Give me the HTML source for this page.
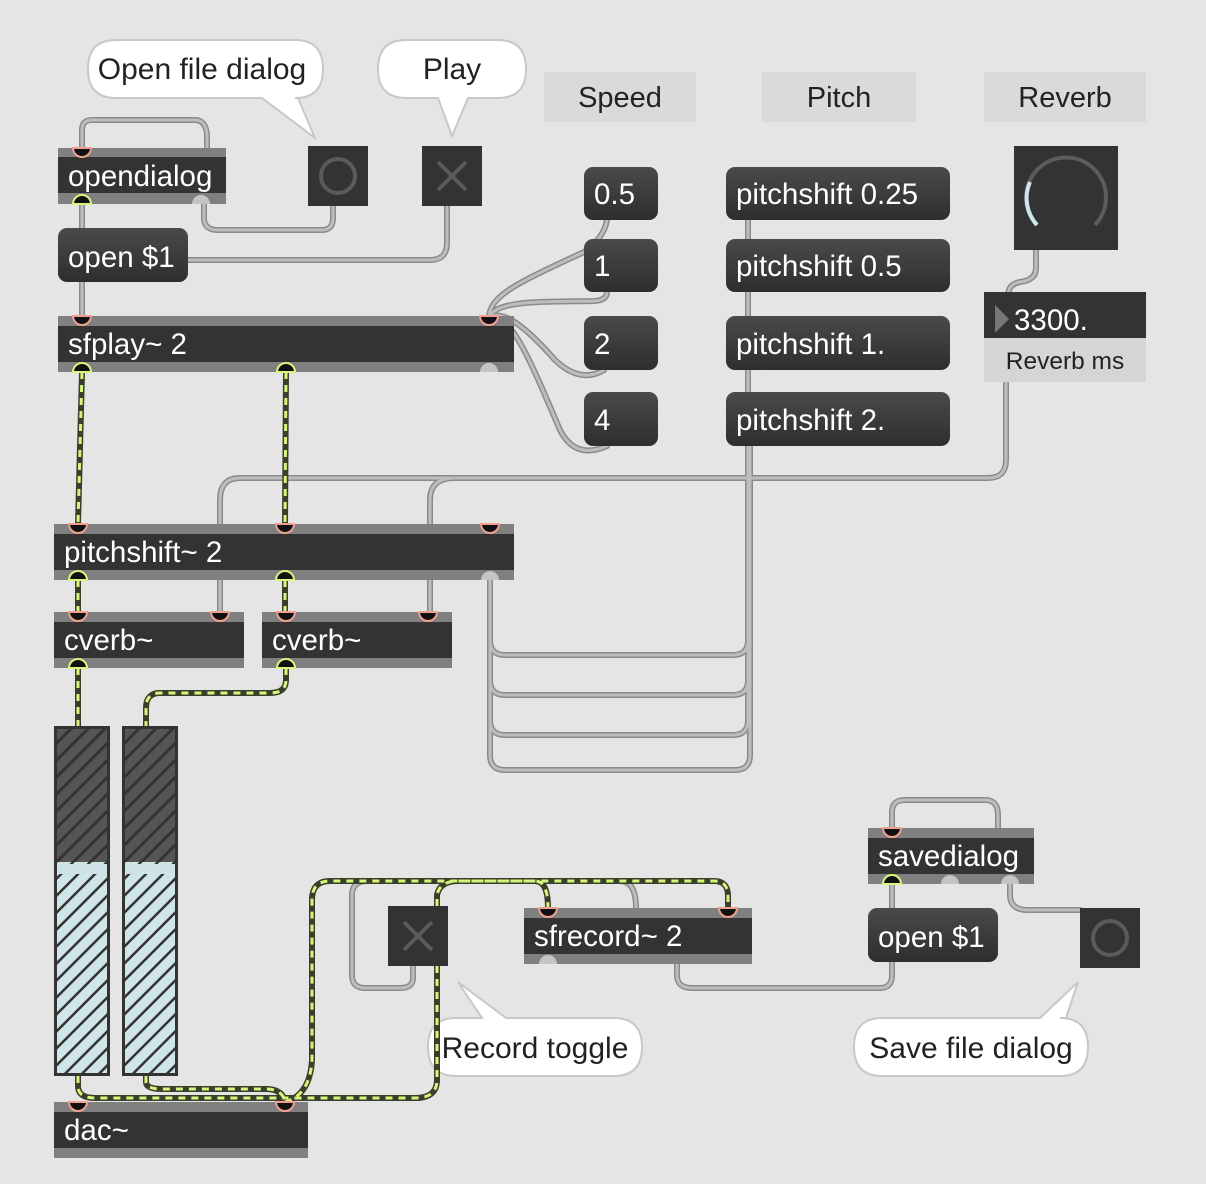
<!DOCTYPE html>
<html><head><meta charset="utf-8"><style>
html,body{margin:0;padding:0;background:#e5e5e5;}
svg{display:block;font-family:"Liberation Sans",sans-serif;}
</style></head><body>
<svg width="1206" height="1184" viewBox="0 0 1206 1184" xmlns="http://www.w3.org/2000/svg">
<defs>
<pattern id="hd" width="12" height="12" patternUnits="userSpaceOnUse" patternTransform="rotate(45)">
<rect width="12" height="12" fill="#555"/><rect width="3" height="12" fill="#333"/></pattern>
<pattern id="hl" width="12" height="12" patternUnits="userSpaceOnUse" patternTransform="rotate(45)">
<rect width="12" height="12" fill="#cfe5e8"/><rect width="2.5" height="12" fill="#333"/></pattern>
<linearGradient id="mg" x1="0" y1="0" x2="0" y2="1"><stop offset="0" stop-color="#4a4a4a"/><stop offset="1" stop-color="#2e2e2e"/></linearGradient>
</defs>
<rect width="1206" height="1184" fill="#e5e5e5"/>

<!-- comments -->
<rect x="544" y="72" width="152" height="50" fill="#dadada"/>
<text x="620" y="107" font-size="29" text-anchor="middle" fill="#222">Speed</text>
<rect x="762" y="72" width="154" height="50" fill="#dadada"/>
<text x="839" y="107" font-size="29" text-anchor="middle" fill="#222">Pitch</text>
<rect x="984" y="72" width="162" height="50" fill="#dadada"/>
<text x="1065" y="107" font-size="29" text-anchor="middle" fill="#222">Reverb</text>

<!-- bubbles -->
<g fill="#fff" stroke="#c8c8c8" stroke-width="2">
<path d="M116,40 H295 Q323,40 323,69 Q323,98 295,98 H298 L315,138 L262,98 H116 Q88,98 88,69 Q88,40 116,40 Z"/>
<path d="M406,40 H498 Q526,40 526,69 Q526,98 498,98 H468 L452,136 L438,98 H406 Q378,98 378,69 Q378,40 406,40 Z"/>
<path d="M456,1018 H482 L458,982 L506,1018 H614 Q642,1018 642,1047 Q642,1076 614,1076 H456 Q428,1076 428,1047 Q428,1018 456,1018 Z"/>
<path d="M882,1018 H1040 L1078,982 L1066,1018 H1060 Q1088,1018 1088,1047 Q1088,1076 1060,1076 H882 Q854,1076 854,1047 Q854,1018 882,1018 Z"/>
</g>
<text x="202" y="79" font-size="30" text-anchor="middle" fill="#222">Open file dialog</text>
<text x="452" y="79" font-size="30" text-anchor="middle" fill="#222">Play</text>
<text x="535" y="1058" font-size="30" text-anchor="middle" fill="#222">Record toggle</text>
<text x="971" y="1058" font-size="30" text-anchor="middle" fill="#222">Save file dialog</text>

<!-- grey wires -->
<g fill="none" stroke-linecap="round">
<g stroke="#8a8a8a" stroke-width="6">
<path d="M82,150 V130 Q82,120 92,120 H195 Q206,120 207,135 V150"/>
<path d="M204,203 V218 Q204,230 218,230 H322 Q333,230 333,218 V206"/>
<path d="M82,203 V228 M82,282 V316"/>
<path d="M188,260 H430 Q447,260 447,243 V206"/>
<path d="M489,318 C489,295 520,282 584,252 Q604,238 607,220"/>
<path d="M489,318 C495,300 540,302 595,301 Q607,300 607,292"/>
<path d="M489,318 C500,310 520,320 555,360 Q580,384 604,370"/>
<path d="M489,318 C510,310 530,360 560,430 Q575,460 607,446"/>
<path d="M490,578 V640 Q490,655 505,655 H733 Q748,655 748,640 V220"/>
<path d="M490,578 V680 Q490,695 505,695 H733 Q748,695 748,680 V292"/>
<path d="M490,578 V720 Q490,735 505,735 H733 Q748,735 748,720 V370"/>
<path d="M490,578 V755 Q490,770 505,770 H735 Q750,770 750,755 V446"/>
<path d="M1036,250 V268 Q1036,280 1020,282 Q1008,284 1008,296"/>
<path d="M1006,382 V460 Q1006,478 988,478 H455 Q430,478 430,500 V612"/>
<path d="M455,478 H240 Q220,478 220,500 V612"/>
<path d="M413,966 V978 Q413,988 400,988 H365 Q352,988 352,975 V895 Q352,881 368,881 H620 Q636,881 636,908"/>
<path d="M677,964 V975 Q677,988 692,988 H880 Q892,988 892,975 V962"/>
<path d="M892,884 V908"/>
<path d="M1010,884 V895 Q1010,910 1028,910 H1080"/>
<path d="M892,828 V812 Q892,800 905,800 H985 Q998,800 998,815 V828"/>
</g>
<g stroke="#bdbdbd" stroke-width="3">
<path d="M82,150 V130 Q82,120 92,120 H195 Q206,120 207,135 V150"/>
<path d="M204,203 V218 Q204,230 218,230 H322 Q333,230 333,218 V206"/>
<path d="M82,203 V228 M82,282 V316"/>
<path d="M188,260 H430 Q447,260 447,243 V206"/>
<path d="M489,318 C489,295 520,282 584,252 Q604,238 607,220"/>
<path d="M489,318 C495,300 540,302 595,301 Q607,300 607,292"/>
<path d="M489,318 C500,310 520,320 555,360 Q580,384 604,370"/>
<path d="M489,318 C510,310 530,360 560,430 Q575,460 607,446"/>
<path d="M490,578 V640 Q490,655 505,655 H733 Q748,655 748,640 V220"/>
<path d="M490,578 V680 Q490,695 505,695 H733 Q748,695 748,680 V292"/>
<path d="M490,578 V720 Q490,735 505,735 H733 Q748,735 748,720 V370"/>
<path d="M490,578 V755 Q490,770 505,770 H735 Q750,770 750,755 V446"/>
<path d="M1036,250 V268 Q1036,280 1020,282 Q1008,284 1008,296"/>
<path d="M1006,382 V460 Q1006,478 988,478 H455 Q430,478 430,500 V612"/>
<path d="M455,478 H240 Q220,478 220,500 V612"/>
<path d="M413,966 V978 Q413,988 400,988 H365 Q352,988 352,975 V895 Q352,881 368,881 H620 Q636,881 636,908"/>
<path d="M677,964 V975 Q677,988 692,988 H880 Q892,988 892,975 V962"/>
<path d="M892,884 V908"/>
<path d="M1010,884 V895 Q1010,910 1028,910 H1080"/>
<path d="M892,828 V812 Q892,800 905,800 H985 Q998,800 998,815 V828"/>
</g>
</g>

<!-- signal wires -->
<g fill="none">
<g stroke="#3a3f2a" stroke-width="6" stroke-linecap="round">
<path d="M82,372 L78,524 M286,372 L285,524 M78,580 V612 M285,580 V612"/>
<path d="M78,668 V726"/>
<path d="M286,668 V680 Q286,693 270,693 H160 Q146,693 146,708 V726"/>
<path d="M78,1076 V1086 Q78,1098 95,1098 H285"/>
<path d="M146,1076 V1082 Q146,1089 162,1089 H268 Q283,1090 285,1102"/>
<path d="M285,1102 Q310,1095 312,1060 V900 Q312,881 330,881 H714 Q728,881 728,896 V908"/>
<path d="M437,966 V1080 Q437,1098 415,1098 H285"/>
<path d="M437,906 V895 Q440,881 458,881 H535 Q548,881 548,908"/>
</g>
<g stroke="#d6f57c" stroke-width="3" stroke-dasharray="7 6">
<path d="M82,372 L78,524 M286,372 L285,524 M78,580 V612 M285,580 V612"/>
<path d="M78,668 V726"/>
<path d="M286,668 V680 Q286,693 270,693 H160 Q146,693 146,708 V726"/>
<path d="M78,1076 V1086 Q78,1098 95,1098 H285"/>
<path d="M146,1076 V1082 Q146,1089 162,1089 H268 Q283,1090 285,1102"/>
<path d="M285,1102 Q310,1095 312,1060 V900 Q312,881 330,881 H714 Q728,881 728,896 V908"/>
<path d="M437,966 V1080 Q437,1098 415,1098 H285"/>
<path d="M437,906 V895 Q440,881 458,881 H535 Q548,881 548,908"/>
</g>
</g>

<!-- object boxes -->
<g>
<rect x="58" y="148" width="168" height="56" fill="#808080"/><rect x="58" y="157" width="168" height="36" fill="#333"/>
<rect x="58" y="316" width="456" height="56" fill="#808080"/><rect x="58" y="326" width="456" height="36" fill="#333"/>
<rect x="54" y="524" width="460" height="56" fill="#808080"/><rect x="54" y="534" width="460" height="36" fill="#333"/>
<rect x="54" y="612" width="190" height="56" fill="#808080"/><rect x="54" y="622" width="190" height="36" fill="#333"/>
<rect x="262" y="612" width="190" height="56" fill="#808080"/><rect x="262" y="622" width="190" height="36" fill="#333"/>
<rect x="54" y="1102" width="254" height="56" fill="#808080"/><rect x="54" y="1112" width="254" height="36" fill="#333"/>
<rect x="524" y="908" width="228" height="56" fill="#808080"/><rect x="524" y="918" width="228" height="36" fill="#333"/>
<rect x="868" y="828" width="166" height="56" fill="#808080"/><rect x="868" y="838" width="166" height="36" fill="#333"/>
</g>
<g fill="#fff" font-size="29.5">
<text x="68" y="186">opendialog</text>
<text x="68" y="354">sfplay~ 2</text>
<text x="64" y="562">pitchshift~ 2</text>
<text x="64" y="650">cverb~</text>
<text x="272" y="650">cverb~</text>
<text x="64" y="1140">dac~</text>
<text x="534" y="946">sfrecord~ 2</text>
<text x="878" y="866">savedialog</text>
</g>

<!-- messages -->
<g fill="url(#mg)">
<rect x="58" y="228" width="130" height="54" rx="9"/>
<rect x="584" y="167" width="74" height="53" rx="9"/>
<rect x="584" y="239" width="74" height="53" rx="9"/>
<rect x="584" y="316" width="74" height="54" rx="9"/>
<rect x="584" y="392" width="74" height="54" rx="9"/>
<rect x="726" y="167" width="224" height="53" rx="9"/>
<rect x="726" y="239" width="224" height="53" rx="9"/>
<rect x="726" y="316" width="224" height="54" rx="9"/>
<rect x="726" y="392" width="224" height="54" rx="9"/>
<rect x="868" y="908" width="130" height="54" rx="9"/>
</g>
<g fill="#fff" font-size="29.5">
<text x="68" y="267">open $1</text>
<text x="594" y="204">0.5</text>
<text x="594" y="276">1</text>
<text x="594" y="354">2</text>
<text x="594" y="430">4</text>
<text x="736" y="204">pitchshift 0.25</text>
<text x="736" y="276">pitchshift 0.5</text>
<text x="736" y="354">pitchshift 1.</text>
<text x="736" y="430">pitchshift 2.</text>
<text x="878" y="947">open $1</text>
</g>

<!-- buttons / toggles -->
<rect x="308" y="146" width="60" height="60" fill="#333"/>
<circle cx="338" cy="176" r="17" fill="none" stroke="#5a5a5a" stroke-width="4"/>
<rect x="422" y="146" width="60" height="60" fill="#333"/>
<path d="M438,162 L466,190 M466,162 L438,190" stroke="#5a5a5a" stroke-width="4"/>
<rect x="388" y="906" width="60" height="60" fill="#333"/>
<path d="M404,922 L432,950 M432,922 L404,950" stroke="#5a5a5a" stroke-width="4"/>
<rect x="1080" y="908" width="60" height="60" fill="#333"/>
<circle cx="1110" cy="938" r="17" fill="none" stroke="#5a5a5a" stroke-width="4"/>

<!-- dial -->
<rect x="1014" y="146" width="104" height="104" fill="#333"/>
<path d="M1037,225 A40,40 0 1 1 1095,225" fill="none" stroke="#5c5c5c" stroke-width="4"/>
<path d="M1037,225 A40,40 0 0 1 1030,182" fill="none" stroke="#cde8ea" stroke-width="4"/>

<!-- number box -->
<rect x="984" y="292" width="162" height="46" fill="#333"/>
<path d="M995,305 L1009,319 L995,333 Z" fill="#777"/>
<text x="1014" y="330" font-size="29.5" fill="#fff">3300.</text>
<rect x="984" y="338" width="162" height="44" fill="#d5d5d5"/>
<text x="1065" y="369" font-size="24.5" text-anchor="middle" fill="#222">Reverb ms</text>

<!-- meters -->
<g stroke="#333" stroke-width="3">
<rect x="55.5" y="727.5" width="53" height="347" fill="url(#hl)"/>
<rect x="123.5" y="727.5" width="53" height="347" fill="url(#hl)"/>
</g>
<rect x="57" y="729" width="50" height="133" fill="url(#hd)"/>
<rect x="125" y="729" width="50" height="133" fill="url(#hd)"/>
<rect x="57" y="864" width="50" height="10" fill="#cde3e6"/>
<rect x="125" y="864" width="50" height="10" fill="#cde3e6"/>

<!-- inlets (salmon rim) -->
<g fill="#111" stroke="#f0a090" stroke-width="2">
<path d="M73,148 a9,9 0 0 0 18,0 Z"/>
<path d="M73,316 a9,9 0 0 0 18,0 Z"/>
<path d="M480,316 a9,9 0 0 0 18,0 Z"/>
<path d="M69,524 a9,9 0 0 0 18,0 Z"/>
<path d="M276,524 a9,9 0 0 0 18,0 Z"/>
<path d="M481,524 a9,9 0 0 0 18,0 Z"/>
<path d="M69,612 a9,9 0 0 0 18,0 Z"/>
<path d="M211,612 a9,9 0 0 0 18,0 Z"/>
<path d="M277,612 a9,9 0 0 0 18,0 Z"/>
<path d="M419,612 a9,9 0 0 0 18,0 Z"/>
<path d="M69,1102 a9,9 0 0 0 18,0 Z"/>
<path d="M276,1102 a9,9 0 0 0 18,0 Z"/>
<path d="M539,908 a9,9 0 0 0 18,0 Z"/>
<path d="M719,908 a9,9 0 0 0 18,0 Z"/>
<path d="M883,828 a9,9 0 0 0 18,0 Z"/>
</g>
<!-- signal outlets (yellow rim) -->
<g fill="#111" stroke="#d6f57c" stroke-width="2">
<path d="M73,204 a9,9 0 0 1 18,0 Z"/>
<path d="M73,372 a9,9 0 0 1 18,0 Z"/>
<path d="M277,372 a9,9 0 0 1 18,0 Z"/>
<path d="M69,580 a9,9 0 0 1 18,0 Z"/>
<path d="M276,580 a9,9 0 0 1 18,0 Z"/>
<path d="M69,668 a9,9 0 0 1 18,0 Z"/>
<path d="M277,668 a9,9 0 0 1 18,0 Z"/>
<path d="M883,884 a9,9 0 0 1 18,0 Z"/>
</g>
<!-- control outlets (grey) -->
<g fill="#c4c4c4">
<path d="M192,204 a9,9 0 0 1 18,0 Z"/>
<path d="M480,372 a9,9 0 0 1 18,0 Z"/>
<path d="M481,580 a9,9 0 0 1 18,0 Z"/>
<path d="M539,964 a9,9 0 0 1 18,0 Z"/>
<path d="M941,884 a9,9 0 0 1 18,0 Z"/>
<path d="M1001,884 a9,9 0 0 1 18,0 Z"/>
</g>
</svg>
</body></html>
